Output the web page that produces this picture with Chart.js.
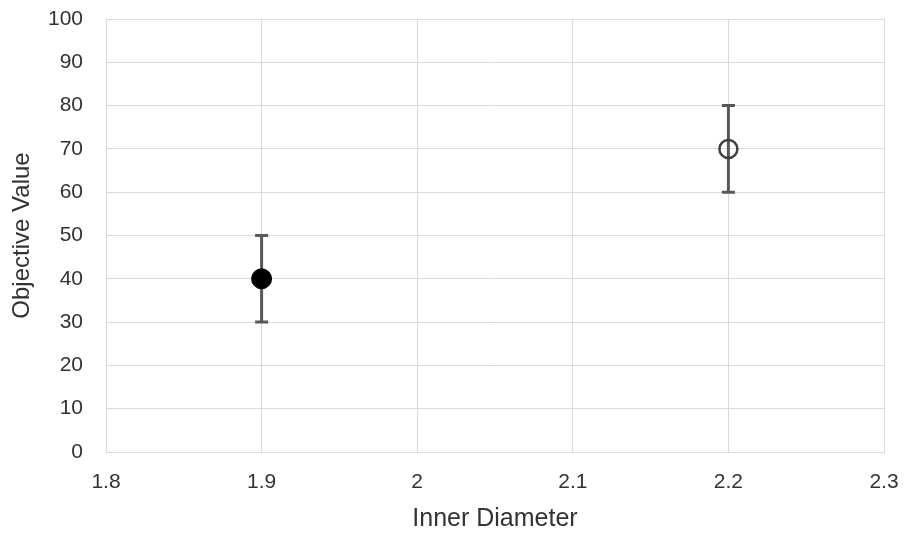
<!DOCTYPE html>
<html>
<head>
<meta charset="utf-8">
<script src="https://cdn.jsdelivr.net/npm/chart.js@4/dist/chart.umd.min.js"></script>
<style>
  html, body { margin: 0; padding: 0; background: #fff; }
  #wrap { width: 908px; height: 535px; }
</style>
</head>
<body>
<div id="wrap"><canvas id="chart" width="908" height="535"></canvas></div>
<script>
// data
var pointX = [1.9, 2.2];
var pointY = [40, 70];
var errLow = [30, 60];
var errHigh = [50, 80];
var filled = [true, false];

var xTitle = 'Inner Diameter';
var yTitle = 'Objective Value';

var textColor = '#333333';
var gridColor = '#d9d9d9';

// error bars, drawn through the scales
var errorBars = {
    id: 'errorBars',
    beforeDatasetsDraw: function (chart) {
        var ctx = chart.ctx;
        var xs = chart.scales.x, ys = chart.scales.y;
        ctx.save();
        ctx.strokeStyle = '#595959';
        ctx.lineWidth = 3;
        for (var i = 0; i < pointX.length; i++) {
            var px = xs.getPixelForValue(pointX[i]);
            var lo = ys.getPixelForValue(errLow[i]);
            var hi = ys.getPixelForValue(errHigh[i]);
            ctx.beginPath();
            ctx.moveTo(px, lo); ctx.lineTo(px, hi);
            ctx.moveTo(px - 6.5, lo); ctx.lineTo(px + 6.5, lo);
            ctx.moveTo(px - 6.5, hi); ctx.lineTo(px + 6.5, hi);
            ctx.stroke();
        }
        ctx.restore();
    }
};

var datasets = pointX.map(function (x, i) {
    return {
        data: [{ x: x, y: pointY[i] }],
        pointRadius: filled[i] ? 10 : 9,
        pointBackgroundColor: filled[i] ? '#000000' : 'rgba(0,0,0,0)',
        pointBorderColor: filled[i] ? '#000000' : '#404040',
        pointBorderWidth: filled[i] ? 1 : 2.5
    };
});

var ctx = document.getElementById('chart').getContext('2d');
var myChart = new Chart(ctx, {
    type: 'scatter',
    data: { datasets: datasets },
    plugins: [errorBars],
    options: {
        responsive: false,
        animation: false,
        layout: { padding: { left: 0, right: 24, top: 19, bottom: 0 } },
        plugins: { legend: { display: false }, tooltip: { enabled: false } },
        scales: {
            x: {
                type: 'linear',
                min: 1.8,
                max: 2.3,
                afterFit: function (s) {
                    s.height = 83;
                    s.paddingLeft = 0; s.paddingRight = 0;
                },
                grid: { color: gridColor, drawTicks: false },
                border: { color: gridColor },
                ticks: {
                    stepSize: 0.1,
                    padding: 18,
                    color: textColor,
                    font: { family: 'Liberation Sans', size: 21 },
                    callback: function (v) { return +v.toFixed(1); }
                },
                title: {
                    display: true,
                    text: xTitle,
                    color: textColor,
                    font: { family: 'Liberation Sans', size: 25 },
                    padding: { top: 0, bottom: 1 }
                }
            },
            y: {
                min: 0,
                max: 100,
                afterFit: function (s) {
                    s.width = 106;
                    s.paddingTop = 0; s.paddingBottom = 0;
                },
                grid: { color: gridColor, drawTicks: false },
                border: { color: gridColor },
                ticks: {
                    stepSize: 10,
                    padding: 23,
                    color: textColor,
                    font: { family: 'Liberation Sans', size: 21 }
                },
                title: {
                    display: true,
                    text: yTitle,
                    color: textColor,
                    font: { family: 'Liberation Sans', size: 24 },
                    padding: { top: 8, bottom: 0 }
                }
            }
        }
    }
});
</script>
</body>
</html>
